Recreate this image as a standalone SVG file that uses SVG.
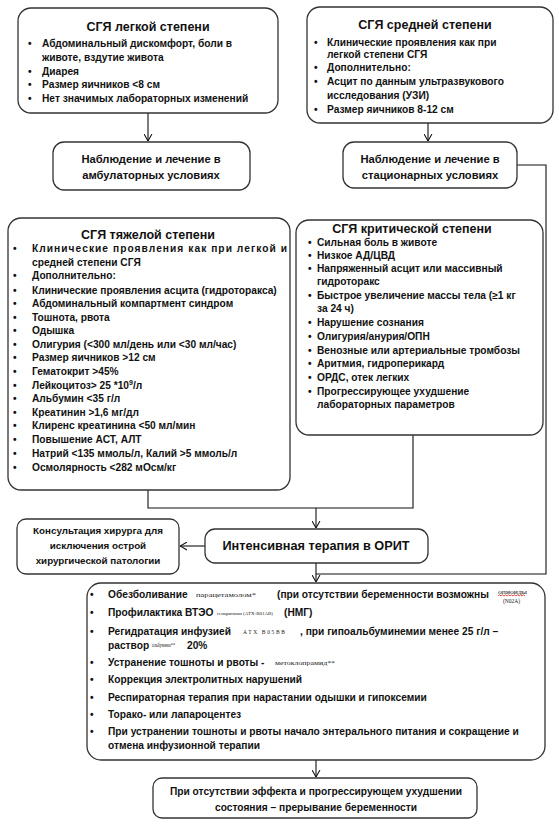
<svg xmlns="http://www.w3.org/2000/svg" width="559" height="833" viewBox="0 0 559 833">
<style>
.box{fill:#fff;stroke:#333;stroke-width:1.3}
.t{font-family:"Liberation Sans",Arial,sans-serif;font-weight:bold;font-size:10.2px;fill:#111}
.ttl{font-family:"Liberation Sans",Arial,sans-serif;font-weight:bold;font-size:12.5px;fill:#111;text-anchor:middle}
.mid{font-family:"Liberation Sans",Arial,sans-serif;font-weight:bold;font-size:11.2px;fill:#111;text-anchor:middle}
.sm{font-family:"Liberation Serif","Times New Roman",serif;font-size:6.5px;fill:#222}
.ln{fill:none;stroke:#111;stroke-width:1.1}
</style>
<defs>
<marker id="arr" viewBox="0 0 8 10" refX="8" refY="5" markerWidth="7" markerHeight="9" markerUnits="userSpaceOnUse" orient="auto">
<path d="M0,0.5 L8,5 L0,9.5" fill="none" stroke="#111" stroke-width="1.2"/>
</marker>
</defs>
<rect width="559" height="833" fill="#fff"/>

<g id="connectors">
<path class="ln" d="M148,113 V141" marker-end="url(#arr)"/>
<path class="ln" d="M428,123 V141" marker-end="url(#arr)"/>
<path class="ln" d="M517,165 H546 V574 H316"/>
<path class="ln" d="M148,490 V508 H413 V435"/>
<path class="ln" d="M316,508 V528" marker-end="url(#arr)"/>
<path class="ln" d="M205,546 H180" marker-end="url(#arr)"/>
<path class="ln" d="M316,563 V582" marker-end="url(#arr)"/>
<path class="ln" d="M316,760 V777" marker-end="url(#arr)"/>
</g>

<g id="mild">
<rect class="box" x="18" y="8" width="260" height="105" rx="13"/>
<text class="ttl" x="148" y="31">СГЯ легкой степени</text>
<text class="t" x="28" y="47">•</text><text class="t" x="42" y="47">Абдоминальный дискомфорт, боли в</text>
<text class="t" x="42" y="61">животе, вздутие живота</text>
<text class="t" x="28" y="75">•</text><text class="t" x="42" y="75">Диарея</text>
<text class="t" x="28" y="88">•</text><text class="t" x="42" y="88">Размер яичников &lt;8 см</text>
<text class="t" x="28" y="102">•</text><text class="t" x="42" y="102">Нет значимых лабораторных изменений</text>
</g>

<g id="ambulatory">
<rect class="box" x="53" y="142" width="197" height="48" rx="11"/>
<text class="mid" x="151" y="163">Наблюдение и лечение в</text>
<text class="mid" x="151" y="179">амбулаторных условиях</text>
</g>

<g id="moderate">
<rect class="box" x="307" y="7" width="246" height="116" rx="13"/>
<text class="ttl" x="425" y="29">СГЯ средней степени</text>
<text class="t" x="314" y="46">•</text><text class="t" x="327" y="46">Клинические проявления как при</text>
<text class="t" x="327" y="57.5">легкой степени СГЯ</text>
<text class="t" x="314" y="71">•</text><text class="t" x="327" y="71">Дополнительно:</text>
<text class="t" x="314" y="85">•</text><text class="t" x="327" y="85">Асцит по данным ультразвукового</text>
<text class="t" x="327" y="98.5">исследования (УЗИ)</text>
<text class="t" x="314" y="112.5">•</text><text class="t" x="327" y="112.5">Размер яичников 8-12 см</text>
</g>

<g id="stationary">
<rect class="box" x="343" y="142" width="174" height="46" rx="11"/>
<text class="mid" x="430" y="163">Наблюдение и лечение в</text>
<text class="mid" x="430" y="179">стационарных условиях</text>
</g>

<g id="severe">
<rect class="box" x="8" y="218" width="282" height="272" rx="13"/>
<text class="ttl" x="148" y="239">СГЯ тяжелой степени</text>
<text class="t" x="13" y="252">•</text><text class="t" x="32" y="252" textLength="255" lengthAdjust="spacing">Клинические проявления как при легкой и</text>
<text class="t" x="32" y="266">средней степени СГЯ</text>
<text class="t" x="13" y="279">•</text><text class="t" x="32" y="279">Дополнительно:</text>
<text class="t" x="13" y="294">•</text><text class="t" x="32" y="294">Клинические проявления асцита (гидроторакса)</text>
<text class="t" x="13" y="307">•</text><text class="t" x="32" y="307">Абдоминальный компартмент синдром</text>
<text class="t" x="13" y="321">•</text><text class="t" x="32" y="321">Тошнота, рвота</text>
<text class="t" x="13" y="334">•</text><text class="t" x="32" y="334">Одышка</text>
<text class="t" x="13" y="348">•</text><text class="t" x="32" y="348">Олигурия (&lt;300 мл/день или &lt;30 мл/час)</text>
<text class="t" x="13" y="361">•</text><text class="t" x="32" y="361">Размер яичников &gt;12 см</text>
<text class="t" x="13" y="375">•</text><text class="t" x="32" y="375">Гематокрит &gt;45%</text>
<text class="t" x="13" y="389">•</text><text class="t" x="32" y="389">Лейкоцитоз&gt; 25 *10<tspan dy="-4" font-size="7px">9</tspan><tspan dy="4">/л</tspan></text>
<text class="t" x="13" y="402">•</text><text class="t" x="32" y="402">Альбумин &lt;35 г/л</text>
<text class="t" x="13" y="416">•</text><text class="t" x="32" y="416">Креатинин &gt;1,6 мг/дл</text>
<text class="t" x="13" y="429">•</text><text class="t" x="32" y="429">Клиренс креатинина &lt;50 мл/мин</text>
<text class="t" x="13" y="443">•</text><text class="t" x="32" y="443">Повышение АСТ, АЛТ</text>
<text class="t" x="13" y="457">•</text><text class="t" x="32" y="457">Натрий &lt;135 ммоль/л, Калий &gt;5 ммоль/л</text>
<text class="t" x="13" y="471">•</text><text class="t" x="32" y="471">Осмолярность &lt;282 мОсм/кг</text>
</g>

<g id="critical">
<rect class="box" x="296" y="220" width="247" height="215" rx="13"/>
<text class="ttl" x="412" y="233">СГЯ критической степени</text>
<text class="t" x="308" y="246">•</text><text class="t" x="317" y="246">Сильная боль в животе</text>
<text class="t" x="308" y="259">•</text><text class="t" x="317" y="259">Низкое АД/ЦВД</text>
<text class="t" x="308" y="272">•</text><text class="t" x="317" y="272">Напряженный асцит или массивный</text>
<text class="t" x="317" y="285">гидроторакс</text>
<text class="t" x="308" y="299">•</text><text class="t" x="317" y="299">Быстрое увеличение массы тела (≥1 кг</text>
<text class="t" x="317" y="312">за 24 ч)</text>
<text class="t" x="308" y="326">•</text><text class="t" x="317" y="326">Нарушение сознания</text>
<text class="t" x="308" y="340">•</text><text class="t" x="317" y="340">Олигурия/анурия/ОПН</text>
<text class="t" x="308" y="354">•</text><text class="t" x="317" y="354">Венозные или артериальные тромбозы</text>
<text class="t" x="308" y="367">•</text><text class="t" x="317" y="367">Аритмия, гидроперикард</text>
<text class="t" x="308" y="381">•</text><text class="t" x="317" y="381">ОРДС, отек легких</text>
<text class="t" x="308" y="395">•</text><text class="t" x="317" y="395">Прогрессирующее ухудшение</text>
<text class="t" x="317" y="408">лабораторных параметров</text>
</g>

<g id="surgeon">
<rect class="box" x="17" y="519" width="162" height="55" rx="9"/>
<text class="mid" style="font-size:9.8px" x="98" y="534">Консультация хирурга для</text>
<text class="mid" style="font-size:9.8px" x="98" y="549">исключения острой</text>
<text class="mid" style="font-size:9.8px" x="98" y="564">хирургической патологии</text>
</g>

<g id="icu">
<rect class="box" x="205" y="529" width="223" height="34" rx="10"/>
<text class="mid" style="font-size:12.7px" x="316" y="550">Интенсивная терапия в ОРИТ</text>
</g>

<g id="treatment">
<rect class="box" x="87" y="583" width="458" height="177" rx="14"/>
<text class="t" x="90" y="598">•</text><text class="t" x="108" y="598">Обезболивание</text>
<text class="sm" x="196" y="597" textLength="60" lengthAdjust="spacingAndGlyphs">парацетамолом*</text>
<text class="t" x="277" y="598">(при отсутствии беременности возможны</text>
<text class="sm" x="498" y="594" style="font-size:5.5px" textLength="29" lengthAdjust="spacingAndGlyphs">опиоиды</text>
<path d="M498,596 l1.5,-1.2 l1.5,1.2 l1.5,-1.2 l1.5,1.2 l1.5,-1.2 l1.5,1.2 l1.5,-1.2 l1.5,1.2 l1.5,-1.2 l1.5,1.2 l1.5,-1.2 l1.5,1.2 l1.5,-1.2 l1.5,1.2 l1.5,-1.2 l1.5,1.2 l1.5,-1.2 l1.5,1.2" fill="none" stroke="#d00" stroke-width="0.7"/>
<text class="sm" x="503" y="603" style="font-size:5.5px">(N02A)</text>
<text class="t" x="90" y="616">•</text><text class="t" x="108" y="616">Профилактика ВТЭО</text>
<text class="sm" x="217" y="615" style="font-size:5px" textLength="56" lengthAdjust="spacingAndGlyphs">гепаринами (АТХ-B01AB)</text>
<text class="t" x="284" y="616">(НМГ)</text>
<text class="t" x="90" y="635">•</text><text class="t" x="108" y="635">Регидратация инфузией</text>
<text class="sm" x="243" y="634" style="font-size:5.5px" textLength="42" lengthAdjust="spacing">АТХ  B05BB</text>
<text class="t" x="300" y="635">, при гипоальбуминемии  менее 25 г/л –</text>
<text class="t" x="108" y="649">раствор</text>
<text class="sm" x="152" y="647" style="font-size:5.5px" textLength="23" lengthAdjust="spacingAndGlyphs">альбумина**</text>
<text class="t" x="187" y="649">20%</text>
<text class="t" x="90" y="666">•</text><text class="t" x="108" y="666">Устранение тошноты и рвоты -</text>
<text class="sm" x="275" y="665" textLength="60" lengthAdjust="spacingAndGlyphs">метоклопрамид**</text>
<text class="t" x="90" y="683">•</text><text class="t" x="108" y="683">Коррекция электролитных нарушений</text>
<text class="t" x="90" y="701">•</text><text class="t" x="108" y="701">Респираторная терапия при нарастании одышки и гипоксемии</text>
<text class="t" x="90" y="718">•</text><text class="t" x="108" y="718">Торако- или лапароцентез</text>
<text class="t" x="90" y="735">•</text><text class="t" x="108" y="735">При устранении тошноты и рвоты начало энтерального питания и сокращение и</text>
<text class="t" x="108" y="749">отмена инфузионной терапии</text>
</g>

<g id="termination">
<rect class="box" x="153" y="778" width="324" height="40" rx="9"/>
<text class="mid" style="font-size:10.2px" x="316" y="795">При отсутствии эффекта и прогрессирующем ухудшении</text>
<text class="mid" style="font-size:10.2px" x="316" y="811">состояния – прерывание беременности</text>
</g>
</svg>
